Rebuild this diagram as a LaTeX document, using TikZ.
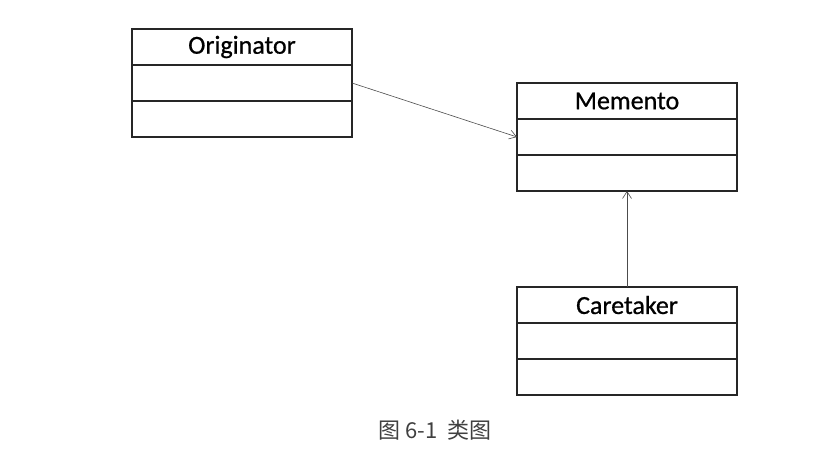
\documentclass[tikz,border=0pt]{standalone}
\usepackage{fontspec}
\setmainfont{Carlito}
\newfontfamily\boxfont[FakeBold=0.7]{Carlito}
\newfontfamily\cjk{Noto Sans CJK SC}
\usetikzlibrary{arrows.meta}
\begin{document}
\begin{tikzpicture}[x=1pt,y=-1pt,
  row/.style={draw=black!85,line width=1.2pt,minimum width=220pt,minimum height=36pt,inner sep=0pt,outer sep=0pt,anchor=north west,font=\boxfont\fontsize{26}{30}\selectfont},
  link/.style={draw=black!70,line width=0.6pt,-{Straight Barb[length=7pt,width=9pt,line width=0.6pt]}}]
\useasboundingbox (0,0) rectangle (832,470);
\node[row] (orig) at (132,29) {Originator};
\node[row] (orig2) at (132,65) {};
\node[row] (orig3) at (132,101) {};
\node[row] (mem) at (517,83) {Memento};
\node[row] (mem2) at (517,119) {};
\node[row] (mem3) at (517,155) {};
\node[row] (care) at (517,287) {Caretaker};
\node[row] (care2) at (517,323) {};
\node[row] (care3) at (517,359) {};
\draw[link] (orig2.east) -- (mem2.west);
\draw[link] (care.north) -- (mem3.south);
\node[text=black!75,font=\cjk\fontsize{22}{26}\selectfont] (cap) at (435,430) {图 6-1\ \ 类图};
\end{tikzpicture}
\end{document}
